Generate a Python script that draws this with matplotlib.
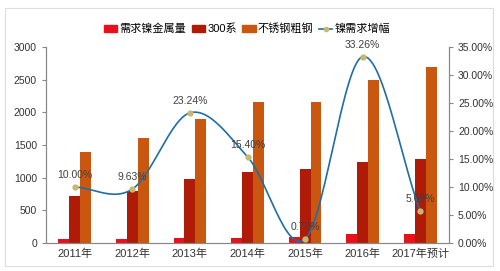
import matplotlib
matplotlib.use("Agg")
import matplotlib.pyplot as plt
import numpy as np
from matplotlib.ticker import FuncFormatter, MultipleLocator
from matplotlib.patches import Rectangle, Patch
from matplotlib.lines import Line2D

plt.rcParams['font.family'] = ['Liberation Sans', 'Noto Sans CJK SC', 'DejaVu Sans']

categories = ['2011年', '2012年', '2013年', '2014年', '2015年', '2016年', '2017年预计']
nickel_demand = [60, 65, 75, 85, 90, 135, 135]
series_300 = [720, 790, 980, 1090, 1130, 1240, 1290]
crude_ss = [1400, 1600, 1900, 2160, 2150, 2500, 2700]
growth = [10.00, 9.63, 23.24, 15.40, 0.72, 33.26, 5.69]
growth_labels = ['10.00%', '9.63%', '23.24%', '15.40%', '0.72%', '33.26%', '5.69%']

c_red = '#e8101a'
c_dark = '#b01b08'
c_orange = '#c9570f'
c_line = '#1f6ea6'
c_marker = '#c9b870'

fig = plt.figure(figsize=(5, 2.71), dpi=100)
fig.patch.set_facecolor('white')
ax = fig.add_axes([0.092, 0.103, 0.806, 0.724])
ax2 = ax.twinx()

x = np.arange(len(categories))
w = 0.19
ax.bar(x - w, nickel_demand, w, color=c_red, label='需求镍金属量')
ax.bar(x, series_300, w, color=c_dark, label='300系')
ax.bar(x + w, crude_ss, w, color=c_orange, label='不锈钢粗钢')

ax.set_xlim(-0.5, len(categories) - 0.5)
ax.set_ylim(0, 3000)
ax.yaxis.set_major_locator(MultipleLocator(500))
ax.set_xticks(x)
ax.set_xticklabels(categories, fontsize=8, color='#333333')
ax.tick_params(axis='x', length=0, pad=4)
ax.tick_params(axis='y', labelsize=7.5, colors='#333333', length=3, color='#888888')

# smooth line (Catmull-Rom through the data points)
def catmull(xs, ys, n=30):
    xs = np.asarray(xs, float); ys = np.asarray(ys, float)
    px = np.concatenate([[2*xs[0]-xs[1]], xs, [2*xs[-1]-xs[-2]]])
    py = np.concatenate([[2*ys[0]-ys[1]], ys, [2*ys[-1]-ys[-2]]])
    ox, oy = [], []
    for i in range(1, len(px)-2):
        t = np.linspace(0, 1, n)
        for arr, out in ((px, ox), (py, oy)):
            p0, p1, p2, p3 = arr[i-1], arr[i], arr[i+1], arr[i+2]
            out.extend(0.5*((2*p1) + (-p0+p2)*t + (2*p0-5*p1+4*p2-p3)*t**2 + (-p0+3*p1-3*p2+p3)*t**3))
    return np.array(ox), np.array(oy)

sx, sy = catmull(x, growth)
ax2.plot(sx, sy, color=c_line, lw=1.2, zorder=3)
ax2.plot(x, growth, 'o', color=c_marker, ms=3.5, zorder=4)
for xi, gi, lab in zip(x, growth, growth_labels):
    ax2.annotate(lab, (xi, gi), xytext=(0, 5), textcoords='offset points',
                 ha='center', va='bottom', fontsize=7.5, color='#404040')
ax2.set_ylim(0, 35)
ax2.yaxis.set_major_locator(MultipleLocator(5))
ax2.yaxis.set_major_formatter(FuncFormatter(lambda v, p: f'{v:.2f}%'))
ax2.tick_params(axis='y', labelsize=7.5, colors='#333333', length=3, color='#888888')

for a in (ax, ax2):
    a.spines['top'].set_visible(False)
    for s in ('left', 'right', 'bottom'):
        a.spines[s].set_color('#888888')
        a.spines[s].set_linewidth(0.8)

handles = [Patch(color=c_red), Patch(color=c_dark), Patch(color=c_orange),
           Line2D([0], [0], color=c_line, lw=1.2, marker='o', ms=3, mfc=c_marker, mec=c_marker)]
labels = ['需求镍金属量', '300系', '不锈钢粗钢', '镍需求增幅']
fig.legend(handles, labels, loc='center', bbox_to_anchor=(0.494, 0.893), ncol=4, frameon=False,
           fontsize=8, handlelength=1.2, handleheight=0.55, handletextpad=0.2, columnspacing=0.5)

fig.add_artist(Rectangle((0.01, 0.02), 0.975, 0.95, transform=fig.transFigure,
                         fill=False, edgecolor='#dddddd', lw=0.8))

fig.savefig('out.png', dpi=100)
